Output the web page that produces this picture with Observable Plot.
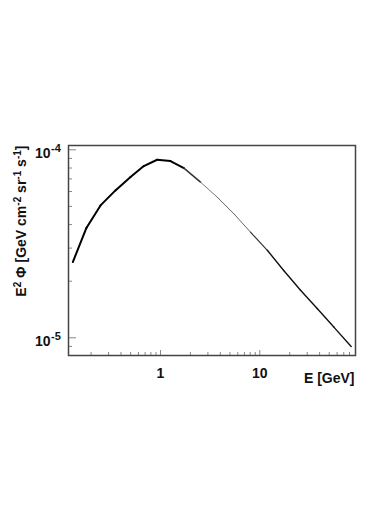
<!DOCTYPE html>
<html><head><meta charset="utf-8">
<script src="https://cdn.jsdelivr.net/npm/d3@7"></script>
<script src="https://cdn.jsdelivr.net/npm/@observablehq/plot@0.6"></script>
<style>body{margin:0;background:#fff}</style>
</head><body><div id="chart"></div>
<script>
const energy = [0.131,0.180,0.249,0.352,0.499,0.679,0.925,1.26,1.72,2.53,3.72,5.47,8.05,11.9,17.4,25.7,37.8,55.6,83.1];
const flux = [2.53e-5,3.85e-5,5.06e-5,6.08e-5,7.16e-5,8.19e-5,8.85e-5,8.71e-5,7.99e-5,6.73e-5,5.60e-5,4.57e-5,3.65e-5,2.92e-5,2.28e-5,1.79e-5,1.43e-5,1.14e-5,8.99e-6];
const yMajorTicks = [1e-5, 1e-4];
const yMinorTicks = [9e-6, 2e-5, 3e-5, 4e-5, 5e-5, 6e-5, 7e-5, 8e-5, 9e-5];
const yTickBase = ["10", "10"];
const yTickExponents = ["-5", "-4"];
const xMajorTicks = [1, 10];
const xMinorTicks = [0.2,0.3,0.4,0.5,0.6,0.7,0.8,0.9,2,3,4,5,6,7,8,9,20,30,40,50,60,70,80];
const xTickLabels = ["1", "10"];
const xLabel = "E [GeV]";
const yLabel = "E2 Φ [GeV cm-2 sr-1 s-1]";

// consecutive pairs of points, drawn as segments so the pen weight can vary like the original
const segs = energy.slice(1).map((e, i) => ({x1: energy[i], y1: flux[i], x2: e, y2: flux[i + 1]}));
function segWidth(s) {
  const m = Math.sqrt(s.x1 * s.x2);
  if (m < 1.5) return 2;
  if (m < 2.2) return 1.5;
  if (m < 7) return 1;
  if (m < 12) return 1.2;
  return 1.4;
}
function segColor(s) {
  const m = Math.sqrt(s.x1 * s.x2);
  if (m < 1.5) return "#000";
  if (m < 2.2) return "#333";
  if (m < 4) return "#777";
  if (m < 7) return "#666";
  if (m < 12) return "#333";
  return "#111";
}

const W = 374, H = 529, mL = 68, mT = 145, mR = 19, mB = 174;
const pw = W - mL - mR, ph = H - mT - mB;
const font = "'Liberation Sans', Arial, sans-serif";

const chart = Plot.plot({
  width: W, height: H,
  marginLeft: mL, marginTop: mT, marginRight: mR, marginBottom: mB,
  style: {fontFamily: font, background: "#fff"},
  x: {type: "log", domain: [0.1185, 91.9], axis: null},
  y: {type: "log", domain: [8.05e-6, 1.054e-4], axis: null},
  marks: [
    Plot.tickY(yMinorTicks, {y: d => d, insetRight: pw - 4, stroke: "#888", strokeWidth: 1}),
    Plot.tickY(yMajorTicks, {y: d => d, insetRight: pw - 8, stroke: "#888", strokeWidth: 1}),
    Plot.tickX(xMinorTicks, {x: d => d, insetTop: ph - 3, stroke: "#888", strokeWidth: 1}),
    Plot.tickX(xMajorTicks, {x: d => d, insetTop: ph - 5, stroke: "#888", strokeWidth: 1}),
    Plot.link(segs, {x1: "x1", y1: "y1", x2: "x2", y2: "y2", stroke: d => segColor(d), strokeWidth: d => segWidth(d), strokeLinecap: "round"}),
    Plot.frame({stroke: "#444", strokeWidth: 1.5}),
    Plot.text(xMajorTicks, {x: d => d, text: (d, i) => xTickLabels[i], frameAnchor: "bottom", lineAnchor: "bottom", dy: 22, fontSize: 14, fontWeight: "bold", fill: "#111"}),
    Plot.text([xLabel], {frameAnchor: "bottom-right", textAnchor: "end", lineAnchor: "bottom", dx: -1, dy: 27, fontSize: 14, fontWeight: "bold", fill: "#111"}),
    Plot.text(yMajorTicks, {y: d => d, text: (d, i) => yTickBase[i], frameAnchor: "left", textAnchor: "end", lineAnchor: "bottom", dx: -18, dy: 8, fontSize: 14, fontWeight: "bold", fill: "#111"}),
    Plot.text(yMajorTicks, {y: d => d, text: (d, i) => yTickExponents[i], frameAnchor: "left", textAnchor: "start", lineAnchor: "bottom", dx: -17.5, dy: 2, fontSize: 11, fontWeight: "bold", fill: "#111"}),
    Plot.text([yLabel], {frameAnchor: "top-left", rotate: -90, textAnchor: "end", lineAnchor: "middle", dx: -47, dy: 0, fontSize: 14, fontWeight: "bold", fill: "#111"})
  ]
});
document.getElementById("chart").appendChild(chart);

// superscripts in the axis label
d3.select(chart).selectAll("text").filter(function() { return this.textContent === yLabel; })
  .each(function() {
    const t = d3.select(this);
    t.text(null);
    const parts = [["E", false], ["2", true], [" Φ [GeV cm", false], ["-2", true], [" sr", false], ["-1", true], [" s", false], ["-1", true], ["]", false]];
    parts.forEach(([s, sup]) => {
      const ts = t.append("tspan").text(s);
      if (sup) ts.attr("font-size", 10).attr("dy", -5);
      else if (s !== "E") ts.attr("dy", 5);
    });
  });
</script>
</body></html>
